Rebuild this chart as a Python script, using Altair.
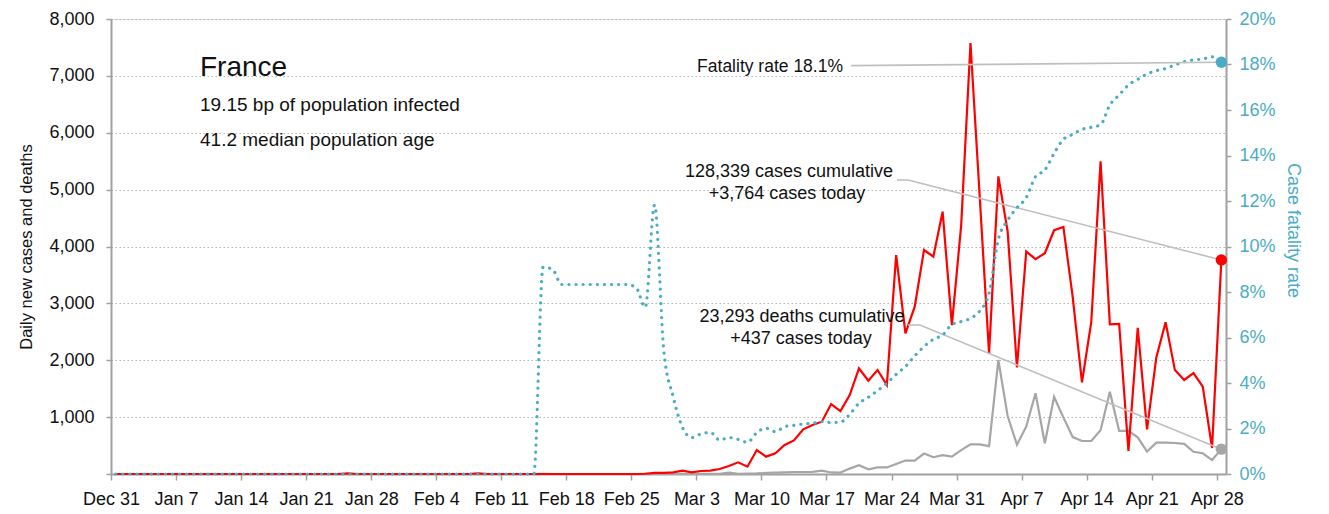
import json
import altair as alt
import pandas as pd

# ---------------- data ----------------
tick_labels = ["Dec 31", "Jan 7", "Jan 14", "Jan 21", "Jan 28", "Feb 4", "Feb 11",
               "Feb 18", "Feb 25", "Mar 3", "Mar 10", "Mar 17", "Mar 24", "Mar 31",
               "Apr 7", "Apr 14", "Apr 21", "Apr 28"]

# daily new cases, Dec 31 .. Apr 28
cases = [
    0, 0, 0, 0, 0, 0, 0, 0, 0, 0,
    0, 0, 0, 0, 0, 0, 0, 0, 0, 0,
    0, 0, 0, 0, 0, 12, 0, 0, 0, 0,
    0, 0, 0, 0, 0, 0, 0, 0, 0, 12,
    0, 0, 0, 0, 0, 0, 0, 0, 0, 0,
    0, 0, 0, 0, 0, 0, 0, 4, 20, 20,
    29, 59, 29, 53, 59, 88, 141, 205, 129, 422,
    305, 363, 510, 590, 785, 861, 920, 1230, 1107, 1389,
    1858, 1641, 1828, 1565, 3850, 2473, 2942, 3938, 3821, 4612,
    2619, 4376, 7578, 4861, 2116, 5233, 4267, 1873, 3912, 3777,
    3881, 4286, 4342, 3114, 1613, 2673, 5497, 2633, 2641, 405,
    2569, 785, 2051, 2667, 1827, 1653, 1773, 1537, 457, 3764,
]

# daily new deaths
deaths = [
    0, 0, 0, 0, 0, 0, 0, 0, 0, 0,
    0, 0, 0, 0, 0, 0, 0, 0, 0, 0,
    0, 0, 0, 0, 0, 0, 0, 0, 0, 0,
    0, 0, 0, 0, 0, 0, 0, 0, 0, 0,
    0, 0, 0, 0, 0, 0, 1, 0, 0, 0,
    0, 0, 0, 0, 0, 0, 0, 1, 0, 0,
    0, 2, 0, 1, 1, 3, 25, 3, 5, 10,
    20, 25, 30, 35, 35, 36, 59, 27, 25, 95,
    155, 82, 115, 115, 175, 236, 234, 360, 295, 330,
    305, 420, 520, 520, 490, 2004, 1020, 515, 833, 1420,
    540, 1355, 995, 650, 580, 580, 770, 1445, 760, 760,
    645, 395, 550, 550, 545, 530, 390, 365, 245, 437,
]

# case fatality rate, %
rate = [
    0, 0, 0, 0, 0, 0, 0, 0, 0, 0,
    0, 0, 0, 0, 0, 0, 0, 0, 0, 0,
    0, 0, 0, 0, 0, 0, 0, 0, 0, 0,
    0, 0, 0, 0, 0, 0, 0, 0, 0, 0,
    0, 0, 0, 0, 0, 0, 9.09, 9.0, 8.33, 8.33,
    8.33, 8.33, 8.33, 8.33, 8.33, 8.33, 8.2, 7.33, 11.82, 5.4,
    3.4, 2.05, 1.6, 1.76, 1.83, 1.49, 1.6, 1.52, 1.39, 1.82,
    2.01, 1.86, 2.08, 2.14, 2.2, 2.23, 2.3, 2.26, 2.28, 2.62,
    3.11, 3.37, 3.66, 3.99, 4.38, 4.72, 5.19, 5.6, 5.92, 6.11,
    6.57, 6.7, 6.84, 7.17, 7.94, 10.32, 11.15, 11.7, 12.15, 13.07,
    13.36, 14.1, 14.71, 14.93, 15.15, 15.24, 15.35, 16.22, 16.66, 17.1,
    17.35, 17.58, 17.73, 17.82, 17.98, 18.12, 18.2, 18.24, 18.34, 18.1,
]

title_text = "France"
sub1 = "19.15 bp of population infected"
sub2 = "41.2 median population age"
fat_label = "Fatality rate 18.1%"
cases_lines = ["128,339 cases cumulative", "+3,764 cases today"]
deaths_lines = ["23,293 deaths cumulative", "+437 cases today"]

# ---------------- styling ----------------
RED = "#FF0000"
GREY = "#A6A6A6"
BLUE = "#4BACC6"
CONN = "#BFBFBF"
AXIS = "#A0A0A0"
TXT = "#111111"
FONT = "Liberation Sans, Arial, sans-serif"

W, H = 1115, 455

n = len(cases)
df = pd.DataFrame({
    "x": [i + 0.5 for i in range(n)],
    "cases": cases,
    "deaths": deaths,
    "rate": rate,
})
last = df.tail(1)

x_enc = alt.X(
    "x:Q",
    scale=alt.Scale(domain=[0, 120], nice=False, zero=False),
    axis=alt.Axis(
        values=list(range(0, 120, 7)),
        labelExpr=f"{json.dumps(tick_labels)}[round(datum.value/7)]",
        title=None, grid=False, tickSize=6, tickColor=AXIS, tickWidth=1.5,
        domainColor=AXIS, domainWidth=2, labelFont=FONT, labelFontSize=18,
        labelColor=TXT, labelPadding=10, labelOverlap=False, labelFlush=False,
    ),
)

scale_l = alt.Scale(domain=[0, 8000], nice=False, zero=True)
axis_l = alt.Axis(
    values=list(range(0, 8001, 1000)),
    labelExpr="datum.value == 0 ? '' : format(datum.value, ',')",
    title="Daily new cases and deaths", titleFont=FONT, titleFontSize=16.5,
    titleFontWeight="normal", titleColor=TXT, titlePadding=14,
    grid=True, gridDash=[1.5, 2.5], gridColor="#B5B5B5", gridWidth=1,
    tickSize=5, tickColor=AXIS, tickWidth=1.5, domainColor=AXIS, domainWidth=2,
    labelFont=FONT, labelFontSize=18, labelColor=TXT, labelPadding=12,
    labelFlush=False, labelOverlap=False,
)


def y_left(field):
    return alt.Y(f"{field}:Q", scale=scale_l, axis=axis_l)


scale_r = alt.Scale(domain=[0, 20], nice=False, zero=True)
axis_r = alt.Axis(
    orient="right", values=list(range(0, 21, 2)),
    labelExpr="datum.value + '%'",
    title="Case fatality rate", titleFont=FONT, titleFontSize=18,
    titleFontWeight="normal", titleColor=BLUE, titlePadding=8, titleY=211,
    grid=False, tickSize=5, tickColor=AXIS, tickWidth=1.5,
    domainColor=AXIS, domainWidth=2,
    labelFont=FONT, labelFontSize=18, labelColor=BLUE, labelPadding=8,
    labelFlush=False, labelOverlap=False,
)


def y_right(field):
    return alt.Y(f"{field}:Q", scale=scale_r, axis=axis_r)


# ---------------- left-scale layers ----------------
deaths_line = alt.Chart(df).mark_line(color=GREY, strokeWidth=2.2).encode(
    x=x_enc, y=y_left("deaths"))
cases_line = alt.Chart(df).mark_line(color=RED, strokeWidth=2.2).encode(
    x=x_enc, y=y_left("cases"))

conn_df = pd.DataFrame({
    "g": ["c", "c", "c", "d", "d", "d"],
    "o": [0, 1, 2, 0, 1, 2],
    "x": [84.59, 85.78, last["x"].iloc[0], 85.78, 87.07, last["x"].iloc[0]],
    "v": [5169, 5169, cases[-1], 2620, 2620, deaths[-1]],
})
connectors = alt.Chart(conn_df).mark_line(color=CONN, strokeWidth=1.6).encode(
    x=x_enc, y=y_left("v"), detail="g:N", order="o:Q")

cases_dot = alt.Chart(last).mark_circle(color=RED, opacity=1, size=130).encode(
    x=x_enc, y=y_left("cases"))
deaths_dot = alt.Chart(last).mark_circle(color=GREY, opacity=1, size=130).encode(
    x=x_enc, y=y_left("deaths"))


def label(text, x, y, size=18, align="center"):
    return alt.Chart(alt.Data(values=[{}])).mark_text(
        text=text, font=FONT, fontSize=size, align=align, baseline="alphabetic",
        color=TXT,
    ).encode(x=alt.value(x), y=alt.value(y))


texts = [
    label(title_text, 89, 57, size=28, align="left"),
    label(sub1, 89, 92, size=19, align="left"),
    label(sub2, 89, 127, size=19, align="left"),
    label(fat_label, 732, 53, size=17.5, align="right"),
    label(cases_lines[0], 678, 158),
    label(cases_lines[1], 676, 180),
    label(deaths_lines[0], 691, 303),
    label(deaths_lines[1], 690, 325),
]

left = alt.layer(deaths_line, cases_line, connectors, cases_dot, deaths_dot, *texts)

# ---------------- right-scale layers ----------------
rate_line = alt.Chart(df).mark_line(
    color=BLUE, strokeWidth=3.2, strokeDash=[0.1, 7], strokeCap="round",
    interpolate="monotone",
).encode(x=x_enc, y=y_right("rate"))

fat_df = pd.DataFrame({"x": [79.64, last["x"].iloc[0]], "rate": [17.95, rate[-1]]})
fat_conn = alt.Chart(fat_df).mark_line(color=CONN, strokeWidth=1.6).encode(
    x=x_enc, y=y_right("rate"))
rate_dot = alt.Chart(last).mark_circle(color=BLUE, opacity=1, size=130).encode(
    x=x_enc, y=y_right("rate"))

right = alt.layer(rate_line, fat_conn, rate_dot)

chart = alt.layer(left, right).resolve_scale(y="independent").properties(
    width=W, height=H,
    autosize=alt.AutoSizeParams(type="none"),
    padding={"left": 103, "top": 11, "right": 90, "bottom": 38},
).configure_view(stroke=None).configure(background="white")

chart.save("out.html", embed_options={"renderer": "svg", "actions": False})
